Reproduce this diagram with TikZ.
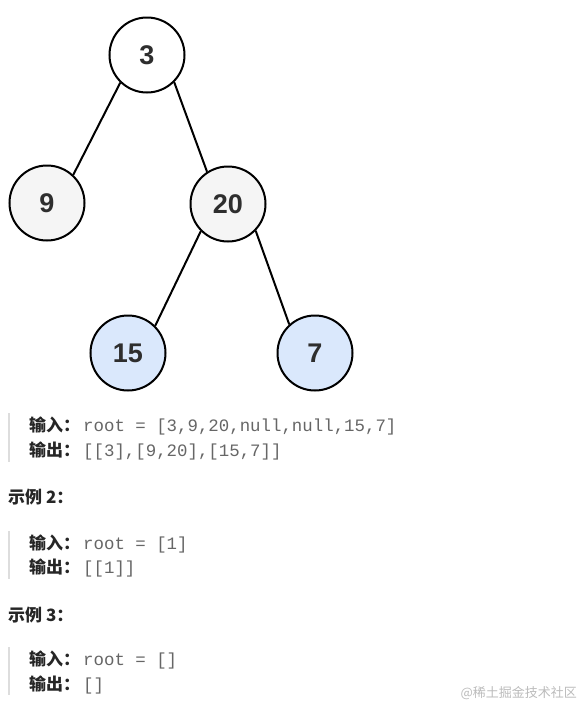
\documentclass[tikz,border=0pt]{standalone}
\usepackage{fontspec}
\setmainfont{Liberation Sans}
\newfontfamily\cjkfont{Noto Sans CJK SC}
\newfontfamily\codefont{Liberation Mono}

\def\nodesize{75}
\def\barx{9}
\definecolor{trwhite}{HTML}{FFFFFF}
\definecolor{trgray}{HTML}{F5F5F5}
\definecolor{trblue}{HTML}{DAE8FC}
\definecolor{trtext}{HTML}{2E2E2E}
\definecolor{exlabel}{HTML}{262626}
\definecolor{excode}{HTML}{666666}
\definecolor{exbar}{HTML}{DDDDDD}
\definecolor{exmark}{HTML}{BBBBBB}

\tikzset{
  treenode/.style={
    circle,
    draw=black,
    line width=2pt,
    minimum size=\nodesize pt,
    inner sep=0pt,
    text=trtext,
    font=\fontsize{27}{29}\selectfont\bfseries
  },
  treeedge/.style={
    draw=black,
    line width=2pt
  },
  exline/.style={
    anchor=base west,
    inner sep=0pt,
    text=exlabel,
    font=\fontsize{17}{20}\selectfont\cjkfont\bfseries
  },
  quotebar/.style={
    draw=exbar,
    line width=2pt
  }
}

\newcommand{\excode}[1]{\hspace{3pt}{\fontsize{17.4}{20}\selectfont\codefont\mdseries\color{excode}#1}}

\begin{document}
\begin{tikzpicture}[x=1pt, y=-1pt]

  \useasboundingbox (0,0) rectangle (581,705);

  % --------------------------------------------------------------------
  % Binary tree
  % --------------------------------------------------------------------

  \node[treenode, fill=trwhite] (n3)  at (147, 55)  {3};
  \node[treenode, fill=trgray]  (n9)  at (47, 203)  {9};
  \node[treenode, fill=trgray]  (n20) at (228, 204) {20};
  \node[treenode, fill=trblue]  (n15) at (128, 353) {15};
  \node[treenode, fill=trblue]  (n7)  at (315, 353) {7};

  \foreach \a/\sa/\b/\sb in {n3/226/n9/47, n3/315/n20/123, n20/225/n15/45, n20/316/n7/132}{
    \draw[treeedge] (\a.\sa) -- (\b.\sb);
  }

  % --------------------------------------------------------------------
  % Example 1
  % --------------------------------------------------------------------

  \draw[quotebar] (\barx, 413) -- (\barx, 462);
  \node[exline] (in1)  at (29, 431) {输入：\excode{root = [3,9,20,null,null,15,7]}};
  \node[exline] (out1) at (29, 456) {输出：\excode{[[3],[9,20],[15,7]]}};

  % --------------------------------------------------------------------
  % Example 2
  % --------------------------------------------------------------------

  \node[exline] (ex2) at (8, 503) {示例 2：};
  \draw[quotebar] (\barx, 531) -- (\barx, 579);
  \node[exline] (in2)  at (29, 549) {输入：\excode{root = [1]}};
  \node[exline] (out2) at (29, 573) {输出：\excode{[[1]]}};

  % --------------------------------------------------------------------
  % Example 3
  % --------------------------------------------------------------------

  \node[exline] (ex3) at (8, 621) {示例 3：};
  \draw[quotebar] (\barx, 647) -- (\barx, 695);
  \node[exline] (in3)  at (29, 665) {输入：\excode{root = []}};
  \node[exline] (out3) at (29, 690) {输出：\excode{[]}};

  % --------------------------------------------------------------------
  % Watermark
  % --------------------------------------------------------------------

  \node[
    anchor=east,
    inner sep=0pt,
    text=exmark,
    font=\fontsize{13}{15}\selectfont\cjkfont
  ] (mark) at (577, 693) {@稀土掘金技术社区};

\end{tikzpicture}
\end{document}
